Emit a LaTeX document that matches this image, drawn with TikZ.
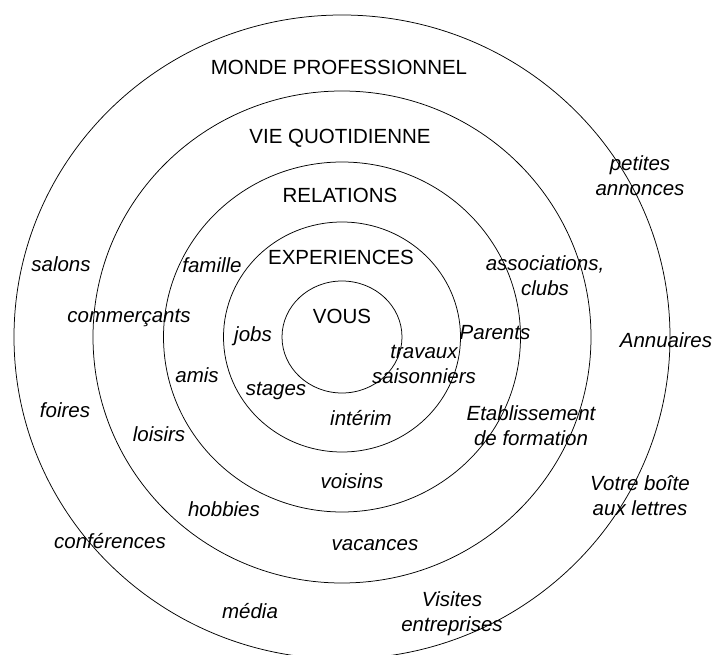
\documentclass[tikz,border=0pt]{standalone}
\usepackage{fontspec}
\setmainfont{Liberation Sans}
\usetikzlibrary{positioning}

\begin{document}
\begin{tikzpicture}[
  x=1pt,y=-1pt,
  every node/.style={font=\fontsize{20.5}{25}\selectfont,align=center,inner sep=0pt},
  item/.style={font=\fontsize{20.5}{25}\selectfont\itshape},
  ring/.style={draw,line width=0.75pt},
  ]

  \clip (0,0) rectangle (715,655);
  \coordinate (centre) at (342,337);

  % the five rings, outermost first
  \draw [ring] (centre) ellipse [x radius=328,y radius=322];
  \draw [ring] (centre) ellipse [x radius=249,y radius=246];
  \draw [ring] (centre) ellipse [x radius=178.5,y radius=175];
  \draw [ring] (centre) ellipse [x radius=118.5,y radius=115];
  \draw [ring] (centre) ellipse [x radius=60,y radius=56];

  % ring titles
  \node (monde-text-node) at (339,67) {MONDE PROFESSIONNEL};
  \node (vie-text-node) at (340,138) {VIE QUOTIDIENNE};
  \node (relations-text-node) at (340,195) {RELATIONS};
  \node (experiences-text-node) at (341,257) {EXPERIENCES};
  \node (vous-text-node) at (342,316) {VOUS};

  % sources, top to bottom
  \node [item] (annonces-text-node) at (640,176) {petites\\annonces};
  \node [item] (salons-text-node) at (61,264) {salons};
  \node [item] (famille-text-node) at (212,265) {famille};
  \node [item] (clubs-text-node) at (545,276) {associations,\\clubs};
  \node [item] (commercants-text-node) at (129,318) {commerçants};
  \node [item] (jobs-text-node) at (253,336) {jobs};
  \node [item] (parents-text-node) at (495,333) {Parents};
  \node [item] (annuaires-text-node) at (666,340) {Annuaires};
  \node [item] (travaux-text-node) at (424,364) {travaux\\saisonniers};
  \node [item] (amis-text-node) at (197,375) {amis};
  \node [item] (stages-text-node) at (276,391) {stages};
  \node [item] (foires-text-node) at (65,410) {foires};
  \node [item] (interim-text-node) at (361,418) {intérim};
  \node [item] (loisirs-text-node) at (159,434) {loisirs};
  \node [item] (formation-text-node) at (531,426) {Etablissement\\de formation};
  \node [item] (voisins-text-node) at (352,481) {voisins};
  \node [item] (lettres-text-node) at (640,496) {Votre boîte\\aux lettres};
  \node [item] (hobbies-text-node) at (224,509) {hobbies};
  \node [item] (conferences-text-node) at (110,541) {conférences};
  \node [item] (vacances-text-node) at (375,545) {vacances};
  \node [item] (media-text-node) at (250,611) {média};
  \node [item] (entreprises-text-node) at (452,614) {Visites\\entreprises};

\end{tikzpicture}
\end{document}
